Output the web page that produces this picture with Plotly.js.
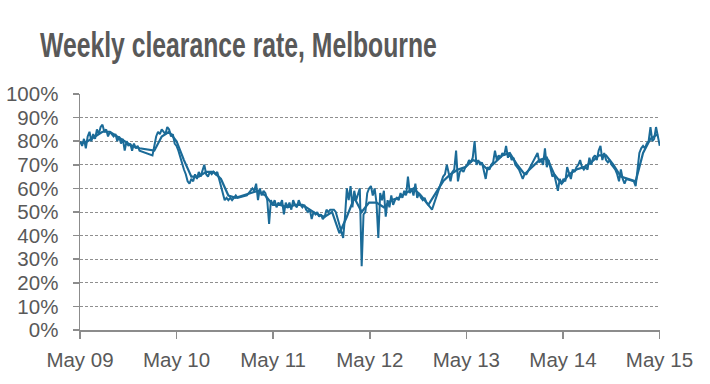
<!DOCTYPE html>
<html><head><meta charset="utf-8">
<script src="https://cdn.plot.ly/plotly-3.0.1.min.js"></script>
<style>html,body{margin:0;padding:0;background:#fff}</style>
</head><body><div id="chart" style="width:710px;height:384px"></div>
<script>
// Weekly clearance rate (%), weeks starting Sat 2 May 2009; null = no auctions (holiday break)
const weeklyY1 = [80,78,81,77,82,84,80,83,81,85,83,86,87,84,85,82,84,83,82,83,80,82,79,81,76,80,78,79,76,79,77,78,76,null,null,null,null,null,null,74,79,82,84,83,85,84,83,86,85,82,83,79];
const weeklyY2 = [78,76,73,71,68,66,63,62,64,63,66,64,67,65,68,70,66,65,67,66,67,66,67,64,61,58,55,56,55,56,55,56,57,56,null,null,null,null,57,58,59,60,59,62,55,60,57,59,58,55,45,55];
const weeklyY3 = [53,55,52,54,53,55,49,54,52,54,51,55,53,52,55,53,52,53,51,50,51,47,50,49,50,48,49,47,48,51,50,51,51,51,50,null,null,null,39,48,60,55,61,52,59,55,58,60,27,49,50,58];
const weeklyY4 = [60,61,57,60,54,39,58,55,59,48,55,52,57,53,55,56,55,58,56,59,57,65,58,60,57,62,56,58,56,55,56,54,53,52,51,null,null,null,null,null,65,66,70,66,63,67,68,76,63,67,68,67];
const weeklyY5 = [69,70,72,71,73,80,70,72,70,71,68,64,69,68,70,71,76,72,74,73,75,74,78,73,75,72,73,70,69,68,66,64,66,66,null,null,null,null,null,75,71,72,70,77,69,72,68,65,66,63,59,64];
const weeklyY6 = [62,64,63,69,66,64,68,67,69,70,72,69,68,69,68,73,70,73,74,72,76,78,72,75,72,71,72,70,69,68,66,63,68,64,62,64,null,null,null,63,61,68,75,77,78,77,79,80,86,80,81,86,81,78];
// Smoothed series, read every 4 weeks from the same start
const smoothed = [79,80,82,84,84,82,80,78,77,null,76,82,84,80,72,65,65,67,67,64,57,56,null,58,59,57,53,53,52,53,53,51,49,48,50,41,48,56,50,54,54,52,55,56,58,60,57,53,null,63,66,68,69,72,71,68,71,74,75,70,66,null,72,73,66,62,66,68,69,71,74,74,70,65,null,63,75,81,83];
const tickDates = ['2009-05-01','2010-05-01','2011-05-01','2012-05-01','2013-05-01','2014-05-01','2015-05-01'];
const tickLabels = ['May 09','May 10','May 11','May 12','May 13','May 14','May 15'];
const yTicks = [0,10,20,30,40,50,60,70,80,90,100];
const yLabels = ['0%','10%','20%','30%','40%','50%','60%','70%','80%','90%','100%'];

const weekly = [].concat(weeklyY1, weeklyY2, weeklyY3, weeklyY4, weeklyY5, weeklyY6);
function dateAt(weeks){ const d = new Date(Date.UTC(2009,4,2)); d.setUTCDate(d.getUTCDate()+7*weeks); return d.toISOString().slice(0,10); }
const weeklyX = weekly.map((v,i)=>dateAt(i));
const smoothX = smoothed.map((v,i)=>dateAt(i*4));

const lineColor = '#1b6b98';
const txt = '#595959';
const axisCol = '#8c8c8c';
const tickFont = {family:'Liberation Sans, Arial, Helvetica, sans-serif', size:20.5, color:txt};

const data = [
  {x: smoothX, y: smoothed, type:'scatter', mode:'lines', connectgaps:true, line:{color:lineColor, width:2.2}, hoverinfo:'skip'},
  {x: weeklyX, y: weekly, type:'scatter', mode:'lines', connectgaps:true, line:{color:lineColor, width:2}, hoverinfo:'skip'}
];
const layout = {
  width:710, height:384,
  margin:{l:80, r:50, t:94, b:54},
  paper_bgcolor:'#fff', plot_bgcolor:'#fff',
  showlegend:false,
  title:{text:'Weekly clearance rate, Melbourne', x:40/710, xref:'container', xanchor:'left', y:1-44.5/384, yref:'container', yanchor:'middle',
    font:{family:'Liberation Sans, Arial, Helvetica, sans-serif', size:35, color:txt, weight:'bold'}},
  xaxis:{type:'date', range:['2009-05-01','2015-05-03'], tickvals:tickDates, ticktext:tickLabels,
    showgrid:false, zeroline:false, showline:true, linecolor:axisCol, linewidth:1.5,
    ticks:'outside', ticklen:7, tickcolor:axisCol, tickwidth:1.5, tickfont:tickFont, ticklabelstandoff:4},
  yaxis:{range:[0,100], tickvals:yTicks, ticktext:yLabels, showgrid:true, gridcolor:'#8f8f8f', griddash:'3px,2px', gridwidth:1,
    zeroline:false, showline:true, linecolor:axisCol, linewidth:1.5,
    ticks:'outside', ticklen:6, tickcolor:axisCol, tickwidth:1.5, tickfont:tickFont, ticklabelstandoff:10}
};
Plotly.newPlot('chart', data, layout, {staticPlot:true, displayModeBar:false}).then(function(gd){
  // the reference title is set in a condensed face: compress it horizontally to the same width
  const t = gd.querySelector('.gtitle');
  if (t) {
    const bb = t.getBBox();
    const x0 = parseFloat(t.getAttribute('x')) || bb.x;
    const s = 397 / bb.width;
    t.setAttribute('transform', 'translate(' + x0 + ',0) scale(' + s + ',1) translate(' + (-x0) + ',0)');
  }
});
</script></body></html>
